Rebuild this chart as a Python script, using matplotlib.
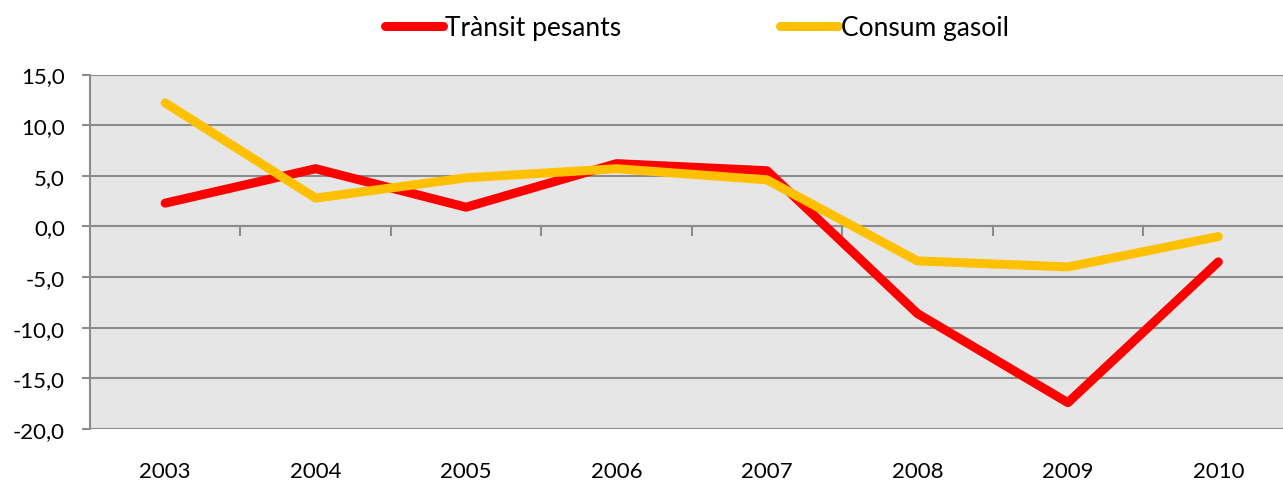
import matplotlib.pyplot as plt
import numpy as np

years = ["2003", "2004", "2005", "2006", "2007", "2008", "2009", "2010"]
transit_pesants = [2.3, 5.7, 1.9, 6.2, 5.5, -8.6, -17.4, -3.5]
consum_gasoil = [12.2, 2.8, 4.8, 5.7, 4.6, -3.4, -4.0, -1.0]

plt.rcParams['font.family'] = ['Lato', 'DejaVu Sans']

fig = plt.figure(figsize=(12.83, 4.85), dpi=100)
ax = fig.add_axes([0.0701, 0.1134, 0.9299, 0.7309])
ax.set_facecolor("#e6e6e6")

x = np.arange(len(years))
ax.plot(x, transit_pesants, color="#ff0000", lw=6.5, solid_capstyle="round",
        solid_joinstyle="round", label="Trànsit pesants", zorder=3)
ax.plot(x, consum_gasoil, color="#ffc000", lw=6.5, solid_capstyle="round",
        solid_joinstyle="round", label="Consum gasoil", zorder=4)

ax.set_ylim(-20, 15)
ax.set_xlim(-0.5, 7.43)
ax.set_yticks(np.arange(-20, 16, 5))
ax.set_yticklabels([f"{v:.1f}".replace(".", ",") for v in np.arange(-20, 16, 5)],
                   fontsize=16)
ax.grid(axis="y", color="#8c8c8c", lw=1.5)
ax.set_axisbelow(True)

for s in ["top", "right"]:
    ax.spines[s].set_visible(False)
ax.spines["left"].set_color("#8c8c8c")
ax.spines["left"].set_linewidth(1.5)
ax.spines["bottom"].set_position(("data", 0))
ax.spines["bottom"].set_color("#8c8c8c")
ax.spines["bottom"].set_linewidth(1.5)
ax.tick_params(axis="y", length=6, width=1.5, color="#8c8c8c", pad=12)

ax.set_xticks(x[:-1] + 0.5)
ax.set_xticklabels([])
ax.tick_params(axis="x", length=7, width=1.5, color="#8c8c8c")

sec = ax.secondary_xaxis("bottom")
sec.set_xticks(x)
sec.set_xticklabels(years, fontsize=16)
sec.tick_params(length=0, pad=23)
sec.spines["bottom"].set_visible(False)

fig.legend(loc="upper center", bbox_to_anchor=(0.543, 1.015), ncol=2,
           frameon=False, fontsize=19, handlelength=2.2, handletextpad=0.1,
           columnspacing=6.0)

fig.savefig("out.png", dpi=100)
